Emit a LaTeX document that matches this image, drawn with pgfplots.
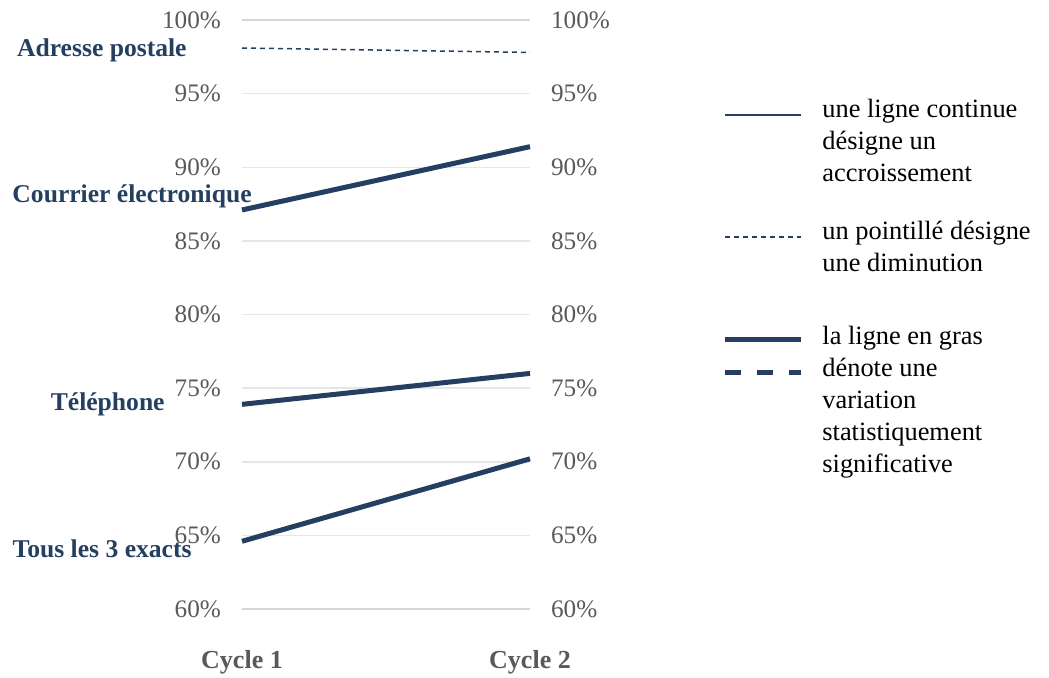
\documentclass[border=0pt]{standalone}
\usepackage{pgfplots}
\pgfplotsset{compat=1.18}
\usepackage{fontspec}
\setmainfont{Liberation Serif}
\definecolor{navy}{HTML}{243F60}
\definecolor{ticktext}{HTML}{595959}
\definecolor{gridc}{HTML}{E6E6E6}
\definecolor{edgec}{HTML}{D6D6D6}

\pgfplotsset{slope/.style={
    at={(121pt,-304.5pt)}, anchor=south west,
    width=144pt, height=294.5pt, scale only axis,
    xmin=0, xmax=1, ymin=60, ymax=100,
    axis line style={draw=none},
    tick style={draw=none},
    ytick={60,65,...,100},
    yticklabel={\pgfmathprintnumber{\tick}\%},
    yticklabel style={text=ticktext, font=\fontsize{12.6}{14}\selectfont},
    /pgf/number format/assume math mode=true,
}}

\begin{document}
\begin{tikzpicture}
\path[use as bounding box] (0,0) rectangle (524.5pt,-338.5pt);

\begin{axis}[slope,
    ymajorgrids, grid style={gridc, line width=0.75pt},
    xtick={0,1}, xticklabels={Cycle 1, Cycle 2},
    xticklabel style={text=ticktext, font=\fontsize{13}{14}\selectfont\bfseries, yshift=-17pt},
    yticklabel style={xshift=-7pt},
    clip=false,
]
\draw[edgec, line width=0.75pt] (axis cs:0,100) -- (axis cs:1,100);
\draw[edgec, line width=0.75pt] (axis cs:0,60) -- (axis cs:1,60);
% Adresse postale
\addplot[navy, line width=0.75pt, dash pattern=on 2.5pt off 2pt] coordinates {(0,98.1) (1,97.8)};
% Courrier electronique
\addplot[navy, line width=2.5pt] coordinates {(0,87.1) (1,91.4)};
% Telephone
\addplot[navy, line width=2.5pt] coordinates {(0,73.9) (1,76.0)};
% Tous les 3 exacts
\addplot[navy, line width=2.5pt] coordinates {(0,64.6) (1,70.2)};

\begin{scope}[every node/.style={anchor=east, text=navy, font=\fontsize{12.8}{14}\selectfont\bfseries, inner sep=0pt}]
\node[xshift=-27.5pt, yshift=-1pt] at (axis cs:0,98.1) {Adresse postale};
\node[xshift=5pt, yshift=7pt] at (axis cs:0,87.1) {Courrier électronique};
\node[xshift=-38.5pt] at (axis cs:0,73.9) {Téléphone};
\node[xshift=-25pt, yshift=-3.5pt] at (axis cs:0,64.6) {Tous les 3 exacts};
\end{scope}
\end{axis}

\begin{axis}[slope,
    xtick=\empty,
    yticklabel pos=right,
    yticklabel style={xshift=7pt},
]
\end{axis}

% legend
\begin{scope}[x=0.5pt, y=-0.5pt]
\draw[navy, line width=0.75pt] (725,115) -- (801,115);
\draw[navy, line width=0.75pt, dash pattern=on 2.5pt off 2pt] (725,237) -- (801,237);
\draw[navy, line width=2.5pt] (725,339) -- (801,339);
\draw[navy, line width=2.5pt, dash pattern=on 8pt off 8pt] (725,372) -- (801,372);
\begin{scope}[every node/.style={anchor=north west, inner sep=0pt, align=left, text=black,
    font=\fontsize{13.2}{16}\selectfont}]
\node at (822,99) {une ligne continue\\désigne un\\accroissement};
\node at (822,221) {un pointillé désigne\\une diminution};
\node at (822,326) {la ligne en gras\\dénote une\\variation\\statistiquement\\significative};
\end{scope}
\end{scope}
\end{tikzpicture}
\end{document}
